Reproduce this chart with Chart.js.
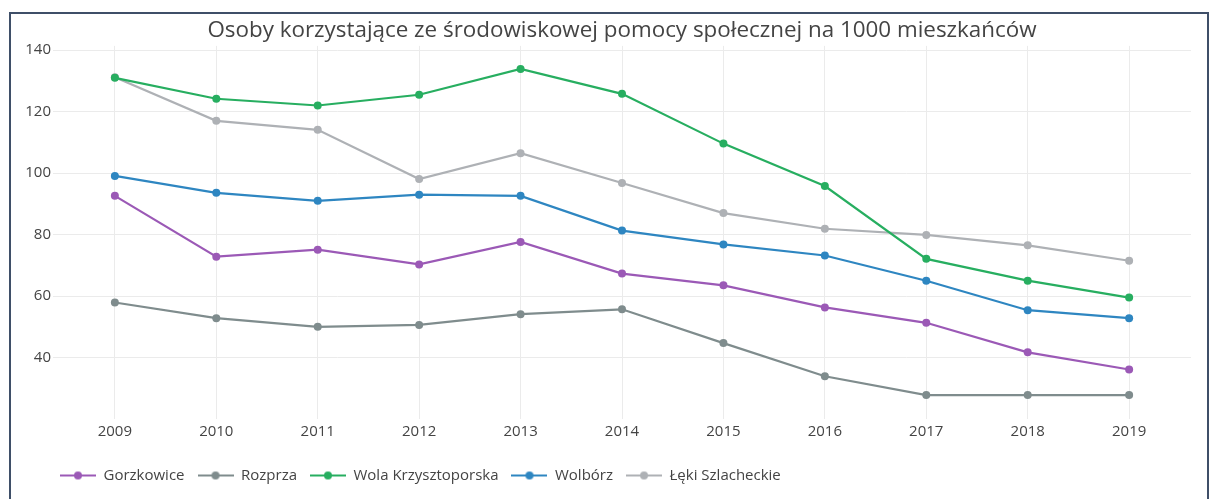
<!DOCTYPE html>
<html>
<head>
<meta charset="utf-8">
<script src="https://cdn.jsdelivr.net/npm/chart.js@4.4.1/dist/chart.umd.min.js"></script>
<style>
  html, body { margin: 0; padding: 0; background: #fff; }
  #frame {
    position: absolute; left: 9px; top: 12px; width: 1196px; height: 490px;
    border-left: 2px solid #3f4f68; border-top: 2px solid #3f4f68; border-right: 2px solid #3f4f68;
  }
  #frame canvas { display: block; }
</style>
</head>
<body>
<div id="frame"><canvas id="chart" width="1196" height="485"></canvas></div>
<script>
// values
const years = [2009, 2010, 2011, 2012, 2013, 2014, 2015, 2016, 2017, 2018, 2019];
const gorzkowice = [92.6, 72.8, 75.1, 70.3, 77.6, 67.3, 63.5, 56.3, 51.3, 41.7, 36.1];
const rozprza = [57.9, 52.8, 50.0, 50.6, 54.1, 55.7, 44.7, 33.9, 27.8, 27.8, 27.8];
const wolaKrzysztoporska = [131.0, 124.2, 122.0, 125.5, 133.9, 125.8, 109.6, 95.8, 72.1, 65.0, 59.5];
const wolborz = [99.1, 93.6, 91.0, 93.0, 92.6, 81.3, 76.8, 73.2, 65.0, 55.4, 52.8];
const lekiSzlacheckie = [131.2, 117.0, 114.1, 98.1, 106.5, 96.8, 87.0, 81.9, 79.9, 76.5, 71.5];
const yTicks = [40, 60, 80, 100, 120, 140];

const seriesNames = ['Gorzkowice', 'Rozprza', 'Wola Krzysztoporska', 'Wolbórz', 'Łęki Szlacheckie'];
const seriesValues = [gorzkowice, rozprza, wolaKrzysztoporska, wolborz, lekiSzlacheckie];
const seriesColors = ['#9b59b6', '#7f8c8d', '#27ae60', '#2e86c1', '#aeb1b5'];

const FONT = '"Open Sans", sans-serif';

// little line+dot pictures for the legend
function legendIcon(color) {
    const c = document.createElement('canvas');
    c.width = 36;
    c.height = 10;
    const g = c.getContext('2d');
    g.strokeStyle = color;
    g.lineWidth = 2;
    g.beginPath();
    g.moveTo(0, 5);
    g.lineTo(36, 5);
    g.stroke();
    g.fillStyle = color;
    g.beginPath();
    g.arc(18, 5, 4, 0, Math.PI * 2);
    g.fill();
    return c;
}
const icons = seriesColors.map(legendIcon);

const datasets = seriesNames.map((name, i) => ({
    label: name,
    data: years.map((y, j) => ({ x: y, y: seriesValues[i][j] })),
    borderColor: seriesColors[i],
    backgroundColor: seriesColors[i],
    borderWidth: 2.2,
    pointRadius: 4,
    pointHoverRadius: 5,
    pointBorderWidth: 0,
    tension: 0
}));

// legend starts further right, title centred over the plot
const shiftBoxes = {
    id: 'shiftBoxes',
    afterLayout(chart) {
        chart.legend.left = 36;
        chart.titleBlock.left = chart.chartArea.left;
        chart.titleBlock.right = chart.chartArea.right;
    }
};

new Chart(document.getElementById('chart'), {
    type: 'line',
    data: { datasets },
    plugins: [shiftBoxes],
    options: {
        responsive: false,
        animation: false,
        layout: { padding: { left: 0, right: 16, top: 0, bottom: 6 } },
        scales: {
            x: {
                type: 'linear',
                min: 2008.39,
                max: 2019.61,
                afterBuildTicks(scale) {
                    scale.ticks = years.map(v => ({ value: v }));
                },
                afterFit(scale) {
                    scale.height += 10;
                },
                ticks: {
                    color: '#444',
                    font: { family: FONT, size: 15 },
                    padding: 4,
                    maxRotation: 0,
                    callback: v => String(v)
                },
                grid: { color: '#ebebeb', drawTicks: false },
                border: { display: false }
            },
            y: {
                min: 20,
                max: 141.4,
                afterBuildTicks(scale) {
                    scale.ticks = yTicks.map(v => ({ value: v }));
                },
                afterFit(scale) {
                    scale.width = 42;
                },
                ticks: {
                    color: '#444',
                    font: { family: FONT, size: 15 },
                    padding: 2
                },
                grid: { color: '#ebebeb', drawTicks: false },
                border: { display: false }
            }
        },
        plugins: {
            title: {
                display: true,
                text: 'Osoby korzystające ze środowiskowej pomocy społecznej na 1000 mieszkańców',
                color: '#444',
                font: { family: FONT, size: 22.4, weight: 'normal' },
                padding: { top: 3, bottom: 2 }
            },
            legend: {
                position: 'bottom',
                align: 'start',
                labels: {
                    color: '#444',
                    font: { family: FONT, size: 15 },
                    usePointStyle: true,
                    pointStyleWidth: 36,
                    padding: 13,
                    generateLabels(chart) {
                        const items = Chart.defaults.plugins.legend.labels.generateLabels(chart);
                        items.forEach((it, i) => { it.pointStyle = icons[i]; });
                        return items;
                    }
                }
            },
            tooltip: { mode: 'nearest', intersect: false }
        }
    }
});
</script>
</body>
</html>
